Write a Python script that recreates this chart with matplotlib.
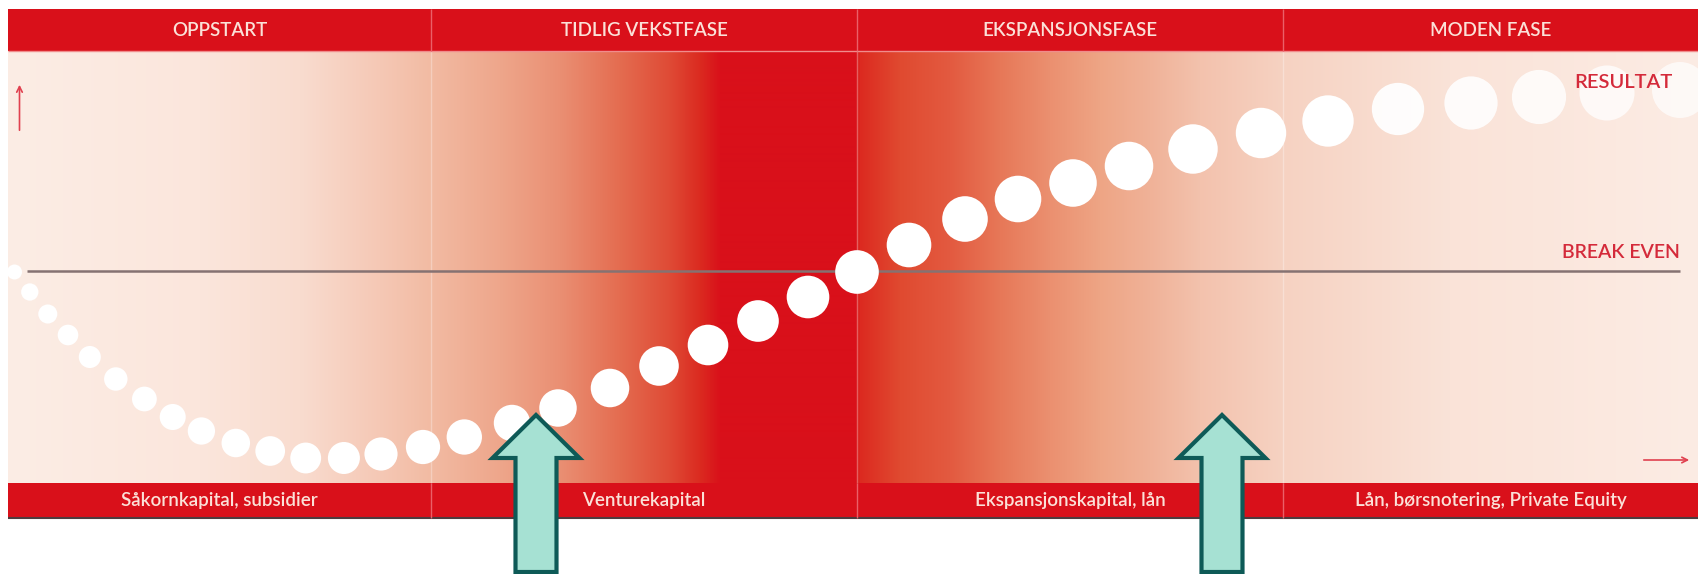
# livssyklus for bedrifter - resultat over tid med kapitalkilder
import matplotlib.pyplot as plt
import matplotlib.patches as patches
import numpy as np

# faser (overskrift) og kapitalkilder (bunn)
faser = ['OPPSTART', 'TIDLIG VEKSTFASE', 'EKSPANSJONSFASE', 'MODEN FASE']
kapital = ['Såkornkapital, subsidier', 'Venturekapital',
           'Ekspansjonskapital, lån', 'Lån, børsnotering, Private Equity']
# fasegrenser langs tidsaksen
grenser = [8, 431, 857, 1283, 1698]

# resultatkurven: tid og resultat (0 = break even)
tid = [14.5, 29.8, 47.8, 68, 89.8, 115.8, 144.4, 172.7, 201.4, 235.8, 270.2,
       305.7, 343.9, 381, 423, 464.3, 512, 558, 610, 659, 708, 758, 808, 857,
       909, 965, 1018, 1073, 1129, 1193, 1261, 1328, 1398, 1471, 1539, 1607, 1680]
resultat = [-1, -21, -43, -64, -86, -108, -128, -146, -160, -172, -180, -187,
            -187, -183, -176, -166, -152, -137, -117, -95, -74, -50, -26, -1,
            26, 52, 72, 88, 105, 122, 138, 150, 162, 168, 174, 178, 181]

# markeringspiler (tid)
piler = [536, 1222]

plt.rcParams['font.family'] = ['Lato', 'DejaVu Sans']

RED = '#d9101a'
W, H = 1698, 574
fig = plt.figure(figsize=(W / 100, H / 100), dpi=100)
ax = fig.add_axes([0, 0, 1, 1])
ax.set_xlim(0, W)
ax.set_ylim(271 - H, 271)
ax.axis('off')

# y-grenser i dataenheter
top_band = (271 - 9, 271 - 51)
bot_band = (271 - 483, 271 - 518)

# bakgrunnsgradient
stops = [(8, '#fcede5'), (200, '#fbe6dc'), (300, '#f9dccf'), (380, '#f5c8b5'),
         (430, '#f2bba3'), (500, '#eea68b'), (560, '#ea8f73'), (620, '#e46c50'),
         (670, '#df4a35'), (700, '#db2a20'), (720, RED), (855, RED),
         (860, '#dc2a20'), (900, '#e04a30'), (950, '#e35a40'), (1000, '#e77858'),
         (1050, '#eb9070'), (1100, '#eea585'), (1150, '#f0b298'), (1200, '#f3c2ad'),
         (1283, '#f6d2c2'), (1450, '#fae3d8'), (1698, '#fcece4')]
sx = np.array([s[0] for s in stops])
scol = np.array([[int(c[i:i + 2], 16) / 255 for i in (1, 3, 5)] for _, c in stops])
xs = np.arange(8, W)
grad = np.stack([np.interp(xs, sx, scol[:, k]) for k in range(3)], axis=-1)
ax.imshow(grad[None, :, :], extent=[8, W, bot_band[0], top_band[1]],
          aspect='auto', zorder=0, interpolation='bilinear')

# røde bånd
ax.add_patch(patches.Rectangle((8, top_band[1]), W - 8, top_band[0] - top_band[1],
                               color=RED, zorder=1, lw=0))
ax.add_patch(patches.Rectangle((8, bot_band[1]), W - 8, bot_band[0] - bot_band[1],
                               color=RED, zorder=1, lw=0))
ax.hlines(top_band[1], 8, W, color='#f08c8c', lw=1, zorder=2)
ax.hlines(bot_band[1], 8, W, color='#4e3b3e', lw=1.5, zorder=2)

# skillelinjer
ax.vlines(grenser[1:-1], top_band[1], top_band[0], color='#ea6068', lw=1, zorder=2)
ax.vlines(grenser[1:-1], bot_band[1], bot_band[0], color='#ea6068', lw=1, zorder=2)
ax.vlines(grenser[1:-1], bot_band[0], top_band[1], color='white', alpha=0.3, lw=1, zorder=1)

# tekst i båndene
for i in range(4):
    xc = (grenser[i] + grenser[i + 1]) / 2
    ax.text(xc, sum(top_band) / 2, faser[i], color='#fbe1d8', fontsize=13.5,
            fontweight='semibold', ha='center', va='center', zorder=3)
    ax.text(xc, sum(bot_band) / 2, kapital[i], color='#fbe1d8', fontsize=13.5,
            fontweight='semibold', ha='center', va='center', zorder=3)

# break even
ax.hlines(0, 27, 1680, color='#857272', lw=1.8, zorder=2)
ax.text(1680, 10, 'BREAK EVEN', color='#d42a3a', fontsize=14, fontweight='semibold',
        ha='right', va='bottom', zorder=5)
ax.text(1673, 188, 'RESULTAT', color='#d42a3a', fontsize=14.5, fontweight='semibold',
        ha='right', va='center', zorder=5)

# aksepiler
ax.annotate('', xy=(19.5, 271 - 82), xytext=(19.5, 271 - 133),
            arrowprops=dict(arrowstyle='->', color='#e0404f', lw=1.2), zorder=3)
ax.annotate('', xy=(1692, 271 - 460), xytext=(1641, 271 - 460),
            arrowprops=dict(arrowstyle='->', color='#e0404f', lw=1.2), zorder=3)

# prikkene, de siste litt gjennomsiktige
n = len(tid)
d = 15 + 41 * (np.arange(n) / (n - 1)) ** 0.8
alpha = np.clip(1.0 - 0.06 * (np.arange(n) - (n - 6)), 0.7, 1.0)
farger = [(1, 1, 1, a) for a in alpha]
dots = ax.scatter(tid, resultat, s=(0.72 * d) ** 2, c=farger, lw=0, zorder=4)
clip = patches.Rectangle((8, bot_band[0]), W - 8, top_band[1] - bot_band[0],
                         transform=ax.transData)
dots.set_clip_path(clip)

# turkise piler
for px in piler:
    ax.add_patch(patches.FancyArrow(px, 271 - 572, 0, 157, width=41, head_width=87,
                                    head_length=43, length_includes_head=True,
                                    facecolor='#a6e1d3', edgecolor='#0e5a57',
                                    lw=3, zorder=6))

plt.savefig('out.png', dpi=100)
